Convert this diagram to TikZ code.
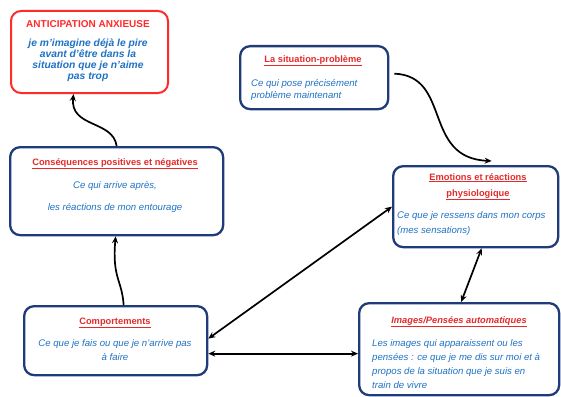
\documentclass[tikz,border=0pt]{standalone}
\usepackage{fontspec}
\setmainfont{Liberation Sans}
\usetikzlibrary{arrows.meta}
\definecolor{boxblue}{HTML}{1F3B7A}
\definecolor{titlered}{HTML}{E32B2B}
\definecolor{textblue}{HTML}{1F72C4}
\definecolor{antired}{HTML}{FF2A2A}
\tikzset{
  boxn/.style={draw=boxblue, line width=2.3pt, rounded corners=10pt, fill=white, anchor=north west, inner sep=0pt},
  redbox/.style={boxn, draw=antired, line width=2pt},
  ttl/.style={text=titlered, font=\bfseries\fontsize{9.3}{11}\selectfont, inner sep=0pt, align=center},
  body/.style={text=textblue, font=\itshape\fontsize{9.6}{14}\selectfont, inner sep=0pt},
  antitxt/.style={text=textblue, font=\bfseries\itshape\fontsize{10.3}{11}\selectfont, inner sep=0pt, align=center},
  arr/.style={-{Stealth[length=7pt,width=6pt]}, line width=1.7pt, black},
  darr/.style={{Stealth[length=7pt,width=6pt]}-{Stealth[length=7pt,width=6pt]}, line width=1.7pt, black},
}
\begin{document}
\begin{tikzpicture}[x=1pt,y=-1pt]
\useasboundingbox (0,0) rectangle (561,396);
% boxes
\node[redbox, minimum width=157pt, minimum height=82pt] (anti) at (10,10) {};
\node[boxn, minimum width=148pt, minimum height=63pt] (sit) at (239,45) {};
\node[boxn, minimum width=213pt, minimum height=88pt] (cons) at (9,146) {};
\node[boxn, minimum width=165pt, minimum height=81pt] (emo) at (392,165) {};
\node[boxn, minimum width=183pt, minimum height=69pt] (comp) at (23,305) {};
\node[boxn, minimum width=200pt, minimum height=92pt] (img) at (358,302) {};
% texts: anticipation
\node[ttl, anchor=base, text=antired, font=\bfseries\fontsize{10}{11}\selectfont] (antit) at (88,28) {ANTICIPATION ANXIEUSE};
\node[antitxt, anchor=base] (antib) at (88,79) {je m’imagine déjà le pire\\avant d’être dans la\\situation que je n’aime\\pas trop};
% situation
\node[ttl, anchor=base] (sitt) at (313,62) {\underline{La situation-problème}};
\node[body, anchor=base west, align=left, font=\itshape\fontsize{9.6}{12}\selectfont] (sitb) at (251,98) {Ce qui pose précisément\\problème maintenant};
% consequences
\node[ttl, anchor=base] (const) at (115,165) {\underline{Conséquences positives et négatives}};
\node[body, anchor=base] (consb1) at (115,188) {Ce qui arrive après,};
\node[body, anchor=base] (consb2) at (115,210) {les réactions de mon entourage};
% emotions
\node[ttl, anchor=base, font=\bfseries\fontsize{9.3}{16}\selectfont] (emot) at (478,196) {\underline{Emotions et réactions}\\\underline{physiologique}};
\node[body, anchor=base west, align=left, font=\itshape\fontsize{9.6}{15}\selectfont] (emob) at (397,233) {Ce que je ressens dans mon corps\\(mes sensations)};
% comportements
\node[ttl, anchor=base] (compt) at (115,324) {\underline{Comportements}};
\node[body, anchor=base, align=center] (compb) at (115,360) {Ce que je fais ou que je n’arrive pas\\à faire};
% images
\node[ttl, anchor=base] (imgt) at (459,323) {\underline{\itshape Images/Pensées automatiques}};
\node[body, anchor=base west, align=left] (imgb) at (372,388) {Les images qui apparaissent ou les\\pensées : ce que je me dis sur moi et à\\propos de la situation que je suis en\\train de vivre};
% connectors
\draw[arr] (cons.north) .. controls (113,120) and (70,128) .. ([xshift=-16pt]anti.south);
\draw[arr] ([xshift=5pt,yshift=4pt]sit.east) .. controls (452,76) and (422,158) .. ([xshift=16pt,yshift=4pt]emo.north);
\draw[darr] ([yshift=2pt]comp.east) -- (emo.west);
\draw[darr] ([xshift=6pt]emo.south) -- ([xshift=2pt]img.north);
\draw[arr] ([xshift=8pt]comp.north) .. controls (122,280) and (112,278) .. ([xshift=-1pt]cons.south);
\path ([yshift=-13pt]comp.east) coordinate (h1);
\draw[darr] (h1) -- (h1 -| img.west);
\end{tikzpicture}
\end{document}
